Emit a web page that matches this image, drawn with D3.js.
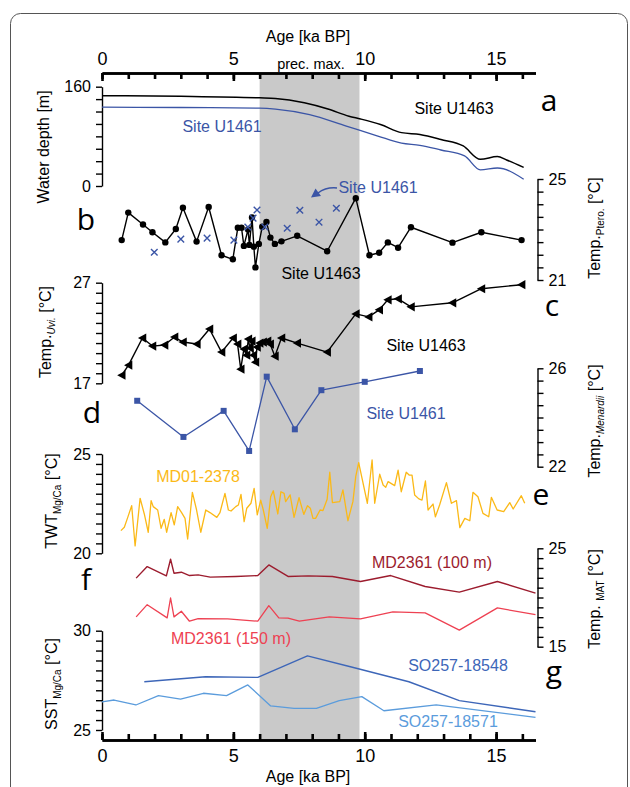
<!DOCTYPE html>
<html>
<head>
<meta charset="utf-8">
<script src="https://cdn.jsdelivr.net/npm/d3@7"></script>
<style>
  body { margin: 0; background: #fff; }
  svg { font-family: 'Liberation Sans', Arial, sans-serif; }
  .letter { font-family: 'Open Sans', sans-serif; font-size: 30px; }
  .lbl { font-size: 16px; }
</style>
</head>
<body>
<div id="draw"></div>
<script>
// --- data ---
const bandAge = [6.0, 9.8]

// a: water depth [m]
const depthAge1463 = [0, 3, 6.0, 6.6, 7.7, 8.6, 9.4, 9.84, 10.6, 11.4, 12.1, 12.9, 13.75, 14.4, 15.05, 15.4, 16.05]
const depth1463 = [145.5, 144.5, 142, 141, 134, 124, 112.5, 108, 99, 86, 83, 75, 64.5, 43, 47.5, 42, 30]
const depthAge1461 = [0, 3, 6.0, 6.6, 7.9, 9.3, 10.5, 11.4, 12.1, 12.9, 13.8, 14.4, 15.05, 16.05]
const depth1461 = [127, 126.5, 125.5, 124, 115, 96.5, 80.5, 69, 65.6, 58, 48.5, 26, 29, 11]

// b: Temp. Ptero. [°C]
const pteroAge1463 = [0.75, 1.0, 1.56, 1.92, 2.41, 2.81, 3.08, 3.6, 4.06, 4.55, 4.98, 5.17, 5.31, 5.4, 5.56, 5.61, 5.71, 5.78, 5.84, 5.97, 6.1, 6.26, 6.41, 6.58, 6.83, 7.43, 8.57, 9.66, 10.18, 10.55, 10.88, 11.27, 11.76, 13.34, 14.44, 15.97]
const pteroTemp1463 = [22.58, 23.67, 23.2, 22.89, 22.49, 23.02, 23.86, 22.52, 23.89, 21.98, 21.82, 23.07, 23.07, 22.35, 23.0, 22.39, 23.48, 22.32, 21.5, 22.43, 23.11, 23.3, 22.68, 22.43, 22.53, 22.75, 22.14, 24.24, 21.98, 22.08, 22.49, 22.28, 23.09, 22.48, 22.89, 22.58]
const pteroAge1461 = [1.99, 3.0, 4.0, 5.02, 5.55, 5.75, 5.9, 6.2, 7.05, 7.53, 8.26, 8.92]
const pteroTemp1461 = [22.1, 22.62, 22.66, 22.58, 23.1, 23.45, 23.77, 23.1, 23.05, 23.76, 23.29, 23.84]

// c: Temp. Uvi. [°C]
const uviAge = [0.75, 1.01, 1.54, 1.92, 2.38, 2.76, 3.08, 3.61, 4.09, 4.55, 4.99, 5.16, 5.28, 5.4, 5.5, 5.57, 5.63, 5.7, 5.76, 5.84, 5.9, 6.0, 6.13, 6.3, 6.4, 6.58, 6.83, 7.43, 8.57, 9.66, 10.15, 10.55, 10.88, 11.27, 11.76, 13.34, 14.44, 15.97]
const uviTemp = [17.8, 18.8, 21.5, 20.7, 20.8, 21.6, 21.1, 20.9, 22.4, 20.1, 21.5, 20.9, 18.4, 20.4, 19.8, 21.4, 20.5, 21.2, 19.8, 19.1, 20.6, 21.0, 21.1, 21.2, 20.9, 19.7, 21.5, 21.0, 20.1, 23.9, 23.6, 24.3, 25.3, 25.4, 24.6, 25.0, 26.4, 26.8]

// d: Temp. Menardii [°C]
const menAge = [1.34, 3.1, 4.63, 5.6, 6.27, 7.34, 8.35, 10.0, 12.1]
const menTemp = [24.68, 23.21, 24.27, 22.64, 25.66, 23.52, 25.11, 25.45, 25.89]

// e: TWT Mg/Ca, MD01-2378
const twtAge = [0.72, 0.85, 0.98, 1.13, 1.26, 1.45, 1.61, 1.76, 1.87, 1.95, 2.12, 2.25, 2.37, 2.46, 2.63, 2.75, 2.88, 3.03, 3.16, 3.26, 3.44, 3.6, 3.76, 3.95, 4.11, 4.37, 4.49, 4.68, 4.81, 4.91, 5.09, 5.19, 5.29, 5.41, 5.51, 5.67, 5.79, 5.91, 6.04, 6.14, 6.29, 6.42, 6.52, 6.69, 6.81, 6.93, 6.99, 7.16, 7.31, 7.5, 7.68, 7.82, 7.93, 8.03, 8.13, 8.3, 8.41, 8.57, 8.67, 8.77, 9.05, 9.17, 9.36, 9.55, 9.66, 9.77, 10.1, 10.28, 10.38, 10.57, 10.7, 10.8, 10.89, 11.14, 11.27, 11.39, 11.58, 11.69, 11.8, 11.9, 12.06, 12.18, 12.31, 12.41, 12.6, 12.69, 12.85, 13.11, 13.3, 13.49, 13.62, 13.81, 14.0, 14.12, 14.31, 14.5, 14.72, 14.82, 15.04, 15.29, 15.52, 15.65, 15.96, 16.09]
const twtTemp = [21.14, 21.31, 21.81, 22.4, 20.37, 22.77, 21.98, 21.06, 22.65, 22.35, 22.18, 21.26, 21.71, 21.06, 22.05, 21.43, 22.35, 22.05, 21.76, 20.72, 23.07, 22.18, 21.06, 22.18, 22.05, 21.81, 22.05, 23.02, 22.18, 22.13, 22.35, 22.43, 22.97, 21.59, 22.27, 22.52, 23.27, 21.93, 22.68, 22.18, 21.26, 22.85, 23.15, 21.98, 23.1, 23.02, 22.6, 22.94, 21.81, 22.8, 21.96, 22.4, 22.27, 21.76, 21.76, 22.18, 22.15, 22.72, 24.08, 22.55, 22.6, 23.19, 21.64, 22.6, 23.89, 24.56, 22.52, 24.7, 22.52, 23.98, 23.44, 23.32, 23.61, 23.41, 24.19, 23.1, 24.08, 23.94, 23.94, 22.94, 22.74, 22.68, 23.64, 22.18, 22.48, 21.84, 22.43, 23.56, 22.52, 22.65, 21.29, 21.76, 21.64, 23.07, 22.85, 22.01, 21.84, 22.82, 22.18, 22.1, 22.55, 22.23, 22.9, 22.52]

// f: Temp. MAT, MD2361
const matAge100 = [1.3, 1.72, 2.45, 2.61, 2.74, 3.02, 3.33, 3.66, 4.12, 5.09, 5.93, 6.35, 7.08, 7.85, 8.77, 9.84, 10.99, 12.3, 13.6, 15.05, 16.5]
const matTemp100 = [21.97, 23.14, 22.2, 23.89, 22.47, 22.57, 22.23, 22.3, 22.07, 22.14, 22.23, 23.31, 22.14, 22.2, 22.14, 21.63, 22.23, 21.12, 20.55, 21.63, 20.45]
const matAge150 = [1.3, 1.72, 2.48, 2.61, 2.74, 3.02, 3.33, 3.66, 4.78, 5.93, 6.35, 6.73, 7.08, 7.51, 8.65, 9.84, 11.07, 12.3, 13.6, 15.05, 16.5]
const matTemp150 = [18.03, 19.27, 17.93, 19.95, 18.03, 18.6, 17.59, 17.86, 17.83, 17.59, 19.17, 17.93, 17.9, 17.59, 18.03, 17.83, 18.54, 18.43, 16.68, 18.94, 18.26]

// g: SST Mg/Ca
const sstAge18548 = [1.61, 3.94, 5.93, 7.82, 9.53, 11.68, 13.6, 16.5]
const sstTemp18548 = [27.43, 27.68, 27.65, 28.73, 28.16, 27.43, 26.48, 25.92]
const sstAge18571 = [0, 0.46, 1.29, 2.15, 2.99, 3.86, 4.74, 5.55, 6.42, 7.31, 8.16, 9.03, 9.89, 10.73, 12.72, 16.5]
const sstTemp18571 = [26.42, 26.51, 26.26, 26.73, 26.56, 26.85, 26.73, 27.27, 26.21, 26.09, 26.09, 26.48, 26.68, 25.97, 26.26, 25.64]

const ageTicks = d3.range(0, 17, 1)
const ageMajor = [0, 5, 10, 15]

// --- drawing ---
const width = 630
const height = 787
const xLeft = 102
const xRight = 535.5
const topY = 73
const bottomY = 740

const x = d3.scaleLinear().domain([0, 16.5]).range([xLeft, xRight])

const svg = d3.select('#draw')
  .append('svg')
  .attr('width', width)
  .attr('height', height)

svg.append('rect')
  .attr('x', 10.5).attr('y', 13.5)
  .attr('width', 617).attr('height', 820)
  .attr('rx', 10)
  .attr('fill', 'none')
  .attr('stroke', '#555')
  .attr('stroke-width', 1)

// precession maximum band
svg.append('rect')
  .attr('x', x(bandAge[0]))
  .attr('y', topY)
  .attr('width', x(bandAge[1]) - x(bandAge[0]))
  .attr('height', bottomY - topY)
  .attr('fill', '#c9c9c9')

function styleAxis (g, w) {
  g.selectAll('path').attr('stroke', '#000').attr('stroke-width', w)
  g.selectAll('line').attr('stroke', '#000').attr('stroke-width', w)
  g.selectAll('text').attr('fill', '#000').attr('font-family', "'Liberation Sans', Arial, sans-serif")
}

// time axes (top + bottom)
let gTopMinor = svg.append('g')
  .attr('transform', 'translate(0,' + topY + ')')
  .call(d3.axisTop(x).tickValues(ageTicks).tickSize(-6).tickSizeOuter(0).tickFormat(''))
styleAxis(gTopMinor, 2.6)
let gTop = svg.append('g')
  .attr('transform', 'translate(0,' + topY + ')')
  .call(d3.axisTop(x).tickValues(ageMajor).tickSize(-8).tickSizeOuter(0).tickPadding(8))
styleAxis(gTop, 2.6)
gTop.selectAll('text').attr('font-size', 18)

let gBotMinor = svg.append('g')
  .attr('transform', 'translate(0,' + bottomY + ')')
  .call(d3.axisBottom(x).tickValues(ageTicks).tickSize(-6).tickSizeOuter(0).tickFormat(''))
styleAxis(gBotMinor, 2.6)
let gBot = svg.append('g')
  .attr('transform', 'translate(0,' + bottomY + ')')
  .call(d3.axisBottom(x).tickValues(ageMajor).tickSize(-8).tickSizeOuter(0).tickPadding(9))
styleAxis(gBot, 2.6)
gBot.selectAll('text').attr('font-size', 18)

svg.append('text').attr('class', 'lbl').attr('x', 308).attr('y', 42).attr('text-anchor', 'middle').text('Age [ka BP]')
svg.append('text').attr('class', 'lbl').attr('x', 308).attr('y', 782).attr('text-anchor', 'middle').text('Age [ka BP]')
svg.append('text').attr('x', 311).attr('y', 69).attr('text-anchor', 'middle').style('font-size', '14.5px').text('prec. max.')

// panel axes
function panelAxis (domain, range, step, side) {
  let y = d3.scaleLinear().domain(domain).range(range)
  let ticks = d3.range(domain[0], domain[1] + step / 2, step)
  let axis = side === 'left' ? d3.axisLeft(y) : d3.axisRight(y)
  axis.tickValues(ticks).tickSize(6).tickSizeOuter(0).tickPadding(5)
    .tickFormat(function (d) { return (d === domain[0] || d === domain[1]) ? d : '' })
  let g = svg.append('g')
    .attr('transform', 'translate(' + (side === 'left' ? xLeft : 537.5) + ',0)')
    .call(axis)
  styleAxis(g, 1.4)
  g.selectAll('text').attr('font-size', 16)
  return y
}

const yA = panelAxis([0, 160], [186, 86.7], 20, 'left')
const yB = panelAxis([21, 25], [280, 179], 0.5, 'right')
const yC = panelAxis([17, 27], [383.3, 282.7], 1, 'left')
const yD = panelAxis([22, 26], [466.7, 368.3], 0.5, 'right')
const yE = panelAxis([20, 25], [553.3, 454], 0.5, 'left')
const yF = panelAxis([15, 25], [646.7, 548.3], 1, 'right')
const yG = panelAxis([25, 30], [730, 630.7], 0.5, 'left')

// axis titles
function vLabel (px, py, parts) {
  let t = svg.append('text')
    .attr('transform', 'translate(' + px + ',' + py + ') rotate(-90)')
    .attr('text-anchor', 'middle')
    .style('font-size', '16px')
  parts.forEach(function (p) {
    t.append('tspan')
      .attr('dy', p.dy || 0)
      .style('font-size', p.fs ? p.fs + 'px' : null)
      .style('font-style', p.it ? 'italic' : null)
      .text(p.t)
  })
}
vLabel(49, 147, [{ t: 'Water depth [m]' }])
vLabel(51, 332, [{ t: 'Temp.' }, { t: 'Uvi.', fs: 10, dy: 4, it: true }, { t: ' [°C]', dy: -4 }])
vLabel(57, 501, [{ t: 'TWT' }, { t: 'Mg/Ca', fs: 10, dy: 4 }, { t: ' [°C]', dy: -4 }])
vLabel(57, 684, [{ t: 'SST' }, { t: 'Mg/Ca', fs: 10, dy: 4 }, { t: ' [°C]', dy: -4 }])
vLabel(600, 228, [{ t: 'Temp.' }, { t: 'Ptero.', fs: 10, dy: 4 }, { t: ' [°C]', dy: -4 }])
vLabel(600, 421, [{ t: 'Temp.' }, { t: 'Menardii', fs: 10, dy: 4, it: true }, { t: ' [°C]', dy: -4 }])
vLabel(600, 599, [{ t: 'Temp. ' }, { t: 'MAT', fs: 10, dy: 4 }, { t: ' [°C]', dy: -4 }])

// series helper
function drawLine (ages, vals, y, color, w, curve) {
  let pts = ages.map(function (a, i) { return [a, vals[i]] })
  let line = d3.line()
    .x(function (d) { return x(d[0]) })
    .y(function (d) { return y(d[1]) })
    .curve(curve || d3.curveLinear)
  svg.append('path')
    .datum(pts)
    .attr('d', line)
    .attr('fill', 'none')
    .attr('stroke', color)
    .attr('stroke-width', w)
    .attr('stroke-linejoin', 'round')
  return pts
}

const blue = '#3b55a6'

// a
drawLine(depthAge1463, depth1463, yA, '#000', 1.5, d3.curveMonotoneX)
drawLine(depthAge1461, depth1461, yA, blue, 1.3, d3.curveMonotoneX)

// b
let ptsB = drawLine(pteroAge1463, pteroTemp1463, yB, '#000', 1.4)
svg.selectAll('.dotB').data(ptsB).enter().append('circle')
  .attr('class', 'dotB')
  .attr('cx', function (d) { return x(d[0]) })
  .attr('cy', function (d) { return yB(d[1]) })
  .attr('r', 3.2)
  .attr('fill', '#000')
svg.selectAll('.crossB').data(pteroAge1461.map(function (a, i) { return [a, pteroTemp1461[i]] })).enter().append('path')
  .attr('class', 'crossB')
  .attr('transform', function (d) { return 'translate(' + x(d[0]) + ',' + yB(d[1]) + ')' })
  .attr('d', 'M-3.3,-3.3L3.3,3.3M-3.3,3.3L3.3,-3.3')
  .attr('stroke', blue)
  .attr('stroke-width', 1.4)

// c
let ptsC = drawLine(uviAge, uviTemp, yC, '#000', 1.4)
svg.selectAll('.triC').data(ptsC).enter().append('path')
  .attr('class', 'triC')
  .attr('transform', function (d) { return 'translate(' + x(d[0]) + ',' + yC(d[1]) + ')' })
  .attr('d', 'M-4.5,0L3.8,-4.6L3.8,4.6Z')
  .attr('fill', '#000')

// d
let ptsD = drawLine(menAge, menTemp, yD, blue, 1.3)
svg.selectAll('.sqD').data(ptsD).enter().append('rect')
  .attr('class', 'sqD')
  .attr('x', function (d) { return x(d[0]) - 3 })
  .attr('y', function (d) { return yD(d[1]) - 3 })
  .attr('width', 6)
  .attr('height', 6)
  .attr('fill', blue)

// e
drawLine(twtAge, twtTemp, yE, '#fbb917', 1.3)

// f
drawLine(matAge100, matTemp100, yF, '#9c1c2e', 1.4)
drawLine(matAge150, matTemp150, yF, '#ee4152', 1.3)

// g
drawLine(sstAge18548, sstTemp18548, yG, '#3d66b8', 1.4)
drawLine(sstAge18571, sstTemp18571, yG, '#5b9cdc', 1.3)

// series labels
function label (tx, ty, txt, color) {
  svg.append('text').attr('class', 'lbl')
    .attr('x', tx).attr('y', ty)
    .attr('text-anchor', 'middle')
    .attr('fill', color)
    .text(txt)
}
label(454, 114, 'Site U1463', '#000')
label(222, 132, 'Site U1461', blue)
label(378, 193, 'Site U1461', blue)
label(321, 279, 'Site U1463', '#000')
label(426, 351, 'Site U1463', '#000')
label(406, 419, 'Site U1461', blue)
label(198, 482, 'MD01-2378', '#fbb917')
label(432, 568, 'MD2361 (100 m)', '#9c1c2e')
label(231, 644, 'MD2361 (150 m)', '#ee4152')
label(458, 671, 'SO257-18548', '#3d66b8')
label(448, 727, 'SO257-18571', '#5b9cdc')

// arrow in b
svg.append('path')
  .attr('d', 'M337,188 Q326,187 318,193')
  .attr('fill', 'none')
  .attr('stroke', blue)
  .attr('stroke-width', 1.5)
svg.append('path')
  .attr('d', 'M311,197.5 L315.5,188.5 L321,196 Z')
  .attr('fill', blue)

// panel letters
const letters = [['a', 549, 111], ['b', 86, 230], ['c', 552, 316], ['d', 92, 423], ['e', 541, 505], ['f', 86, 590], ['g', 554, 682]]
letters.forEach(function (l) {
  svg.append('text').attr('class', 'letter')
    .attr('x', l[1]).attr('y', l[2])
    .attr('text-anchor', 'middle')
    .text(l[0])
})
</script>
</body>
</html>
